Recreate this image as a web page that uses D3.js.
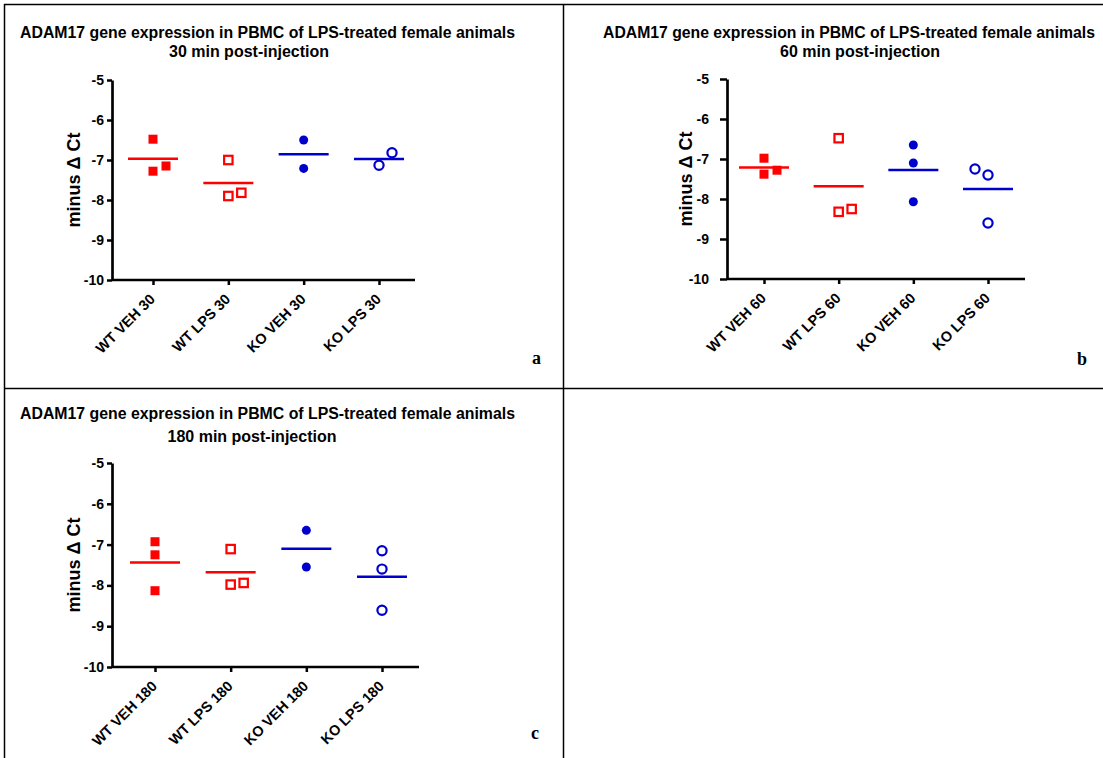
<!DOCTYPE html>
<html>
<head>
<meta charset="utf-8">
<script src="https://cdn.jsdelivr.net/npm/d3@7"></script>
<style>
  body { margin: 0; background: #fff; }
  svg { display: block; font-family: "Liberation Sans", Arial, sans-serif; }
</style>
</head>
<body>
<svg id="chart" width="1103" height="758"></svg>
<script>
// ---- data ----
const groups = ['WT VEH', 'WT LPS', 'KO VEH', 'KO LPS'];
const times = ['30', '60', '180'];
const panelLetters = ['a', 'b', 'c'];
const yTicks = [-5, -6, -7, -8, -9, -10];

// minus delta Ct per animal, one array per group
const values30 = [[-6.48, -7.28, -7.15], [-7.0, -7.9, -7.82], [-6.5, -7.21], [-7.13, -6.82]];
const values60 = [[-6.98, -7.38, -7.28], [-6.48, -8.32, -8.25], [-6.65, -7.1, -8.07], [-7.25, -7.4, -8.6]];
const values180 = [[-6.93, -7.25, -8.13], [-7.11, -7.98, -7.94], [-6.65, -7.55], [-7.15, -7.6, -8.61]];

// which column of the scatter each point sits in (-1 left, 0 centre, 1 right)
const slots30 = [[0, 0, 1], [0, 0, 1], [0, 0], [0, 1]];
const slots60 = [[0, 0, 1], [0, 0, 1], [0, 0, 0], [-1, 0, 0]];
const slots180 = [[0, 0, 0], [0, 0, 1], [0, 0], [0, 0, 0]];

const allValues = [values30, values60, values180];
const allSlots = [slots30, slots60, slots180];

// ---- layout ----
const panels = [
  {axisX: 112, xEnd: 415, yTop: 80, yBot: 280, first: 153, last: 379, tickPad: 3, tickLen: 5, ylabX: 80,
   title1X: 20, title1W: 495, title1Y: 38, title2X: 249, title2Y: 57, letterX: 532, letterY: 364},
  {axisX: 727, xEnd: 1025, yTop: 79, yBot: 279, first: 764, last: 988, tickPad: 11, tickLen: 7, ylabX: 692,
   title1X: 603, title1W: 492, title1Y: 38, title2X: 860, title2Y: 57, letterX: 1077, letterY: 365},
  {axisX: 112, xEnd: 419, yTop: 463, yBot: 667, first: 155, last: 382, tickPad: 3, tickLen: 5, ylabX: 80,
   title1X: 20, title1W: 495, title1Y: 419, title2X: 252, title2Y: 442, letterX: 531, letterY: 739}
];

const colors = ['#ff0000', '#ff0000', '#0000cc', '#0000cc'];
const svg = d3.select('#chart');

// frame lines
const frame = svg.append('g').attr('stroke', '#000').attr('stroke-width', 1.5);
frame.append('line').attr('x1', 4).attr('x2', 1103).attr('y1', 4.5).attr('y2', 4.5);
frame.append('line').attr('x1', 4.5).attr('x2', 4.5).attr('y1', 4).attr('y2', 758);
frame.append('line').attr('x1', 563.5).attr('x2', 563.5).attr('y1', 4).attr('y2', 758);
frame.append('line').attr('x1', 4).attr('x2', 1103).attr('y1', 388.5).attr('y2', 388.5);

panels.forEach((p, pi) => {
  const g = svg.append('g');
  const t = times[pi];

  const x = d3.scalePoint().domain(groups).range([p.first, p.last]);
  const y = d3.scaleLinear().domain([-10, -5]).range([p.yBot, p.yTop]);

  // titles
  g.append('text')
    .attr('x', p.title1X).attr('y', p.title1Y)
    .attr('font-size', 16).attr('font-weight', 'bold')
    .attr('textLength', p.title1W).attr('lengthAdjust', 'spacingAndGlyphs')
    .text('ADAM17 gene expression in PBMC of LPS-treated female animals');
  g.append('text')
    .attr('x', p.title2X).attr('y', p.title2Y)
    .attr('text-anchor', 'middle')
    .attr('font-size', 16).attr('font-weight', 'bold')
    .text(t + ' min post-injection');

  // y axis
  const yAxis = g.append('g')
    .attr('transform', `translate(${p.axisX},0)`)
    .call(d3.axisLeft(y).tickValues(yTicks).tickFormat(d => String(d))
      .tickSize(p.tickLen).tickPadding(p.tickPad).tickSizeOuter(0));
  yAxis.select('.domain').attr('stroke-width', 2.7);
  yAxis.selectAll('.tick line').attr('stroke-width', 2.5);
  yAxis.selectAll('.tick text')
    .attr('font-size', 14).attr('font-weight', 'bold')
    .attr('font-family', '"Liberation Sans", Arial, sans-serif').attr('fill', '#000');

  // x axis
  const xAxis = g.append('g')
    .attr('transform', `translate(0,${p.yBot})`)
    .call(d3.axisBottom(x).tickSize(5).tickSizeOuter(0).tickFormat(''));
  xAxis.select('.domain').attr('d', `M${p.axisX},0H${p.xEnd}`).attr('stroke-width', 2.7);
  xAxis.selectAll('.tick line').attr('stroke-width', 2.5);

  g.append('g').selectAll('text')
    .data(groups)
    .join('text')
    .attr('transform', d => `translate(${x(d) + 3},${p.yBot + 20}) rotate(-45)`)
    .attr('text-anchor', 'end')
    .attr('font-size', 14.5).attr('font-weight', 'bold')
    .text(d => d + ' ' + t);

  // y label
  g.append('text')
    .attr('transform', `translate(${p.ylabX},${(p.yTop + p.yBot) / 2}) rotate(-90)`)
    .attr('text-anchor', 'middle')
    .attr('font-size', 18).attr('font-weight', 'bold')
    .text('minus \u0394 Ct');

  // points and means
  const vals = allValues[pi];
  const slots = allSlots[pi];
  groups.forEach((grp, gi) => {
    const c = colors[gi];
    const cx = x(grp);
    const pts = vals[gi].map((v, k) => ({v, s: slots[gi][k]}));
    const mean = d3.mean(vals[gi]);

    g.append('line')
      .attr('x1', cx - 25).attr('x2', cx + 25)
      .attr('y1', y(mean)).attr('y2', y(mean))
      .attr('stroke', c).attr('stroke-width', 2.5);

    const sel = g.append('g').selectAll('.pt').data(pts);
    if (gi === 0) {
      sel.join('rect').attr('x', d => cx + d.s * 13 - 4.5).attr('y', d => y(d.v) - 4.5)
        .attr('width', 9).attr('height', 9).attr('fill', c);
    } else if (gi === 1) {
      sel.join('rect').attr('x', d => cx + d.s * 13 - 4.2).attr('y', d => y(d.v) - 4.2)
        .attr('width', 8.4).attr('height', 8.4).attr('fill', '#fff')
        .attr('stroke', c).attr('stroke-width', 2.2);
    } else if (gi === 2) {
      sel.join('circle').attr('cx', d => cx + d.s * 13).attr('cy', d => y(d.v))
        .attr('r', 4.5).attr('fill', c);
    } else {
      sel.join('circle').attr('cx', d => cx + d.s * 13).attr('cy', d => y(d.v))
        .attr('r', 4.6).attr('fill', '#fff')
        .attr('stroke', c).attr('stroke-width', 2.2);
    }
  });

  // panel letter
  g.append('text')
    .attr('x', p.letterX).attr('y', p.letterY)
    .attr('font-family', '"Liberation Serif", "Times New Roman", serif')
    .attr('font-size', 18).attr('font-weight', 'bold')
    .text(panelLetters[pi]);
});
</script>
</body>
</html>
